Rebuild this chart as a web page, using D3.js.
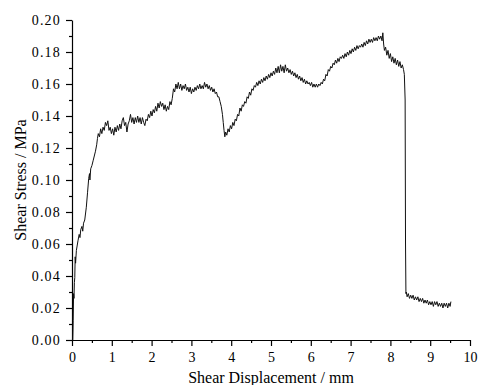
<!DOCTYPE html>
<html>
<head>
<meta charset="utf-8">
<script src="https://cdnjs.cloudflare.com/ajax/libs/d3/7.8.5/d3.min.js"></script>
<style>
  body { margin: 0; background: #fff; }
  svg text { font-family: "Times New Roman", "Liberation Serif", "DejaVu Serif", serif; }
</style>
</head>
<body>
<div id="chart"></div>
<script>
// tick values
const xTicks = [0, 1, 2, 3, 4, 5, 6, 7, 8, 9, 10];
const xMinor = [0.5, 1.5, 2.5, 3.5, 4.5, 5.5, 6.5, 7.5, 8.5, 9.5];
const yTicks = [0, 0.02, 0.04, 0.06, 0.08, 0.10, 0.12, 0.14, 0.16, 0.18, 0.20];
const yMinor = [0.01, 0.03, 0.05, 0.07, 0.09, 0.11, 0.13, 0.15, 0.17, 0.19];

// curve, [displacement mm, stress MPa]
const riseData = [
  [0, 0], [0.02, 0.000], [0.03, 0.012], [0.04, 0.029], [0.05, 0.026], [0.06, 0.036],
  [0.07, 0.039], [0.08, 0.052], [0.09, 0.048], [0.11, 0.056], [0.15, 0.062], [0.18, 0.066],
  [0.20, 0.064], [0.22, 0.069], [0.25, 0.071], [0.27, 0.068], [0.29, 0.073], [0.32, 0.075],
  [0.36, 0.083], [0.39, 0.092], [0.42, 0.101], [0.44, 0.104], [0.45, 0.100], [0.47, 0.107],
  [0.50, 0.109], [0.53, 0.112], [0.56, 0.115], [0.59, 0.118], [0.62, 0.122], [0.64, 0.126]
];
const firstPlateau = [
  [0.66, 0.129], [0.69, 0.127], [0.72, 0.132], [0.75, 0.129], [0.78, 0.133], [0.81, 0.131],
  [0.84, 0.136], [0.87, 0.134], [0.90, 0.137], [0.93, 0.131], [0.96, 0.133], [0.99, 0.129],
  [1.02, 0.132], [1.05, 0.128], [1.08, 0.133], [1.11, 0.130], [1.14, 0.134], [1.17, 0.131],
  [1.20, 0.135], [1.23, 0.132], [1.26, 0.137], [1.29, 0.139], [1.32, 0.134], [1.35, 0.136],
  [1.38, 0.130], [1.41, 0.135], [1.44, 0.137], [1.47, 0.141], [1.50, 0.136], [1.53, 0.139],
  [1.56, 0.135], [1.59, 0.139], [1.62, 0.136], [1.65, 0.140], [1.68, 0.136], [1.71, 0.139],
  [1.74, 0.135], [1.77, 0.139], [1.80, 0.136], [1.83, 0.134], [1.86, 0.138], [1.89, 0.137],
  [1.92, 0.141], [1.95, 0.139], [1.98, 0.143], [2.01, 0.140], [2.04, 0.144], [2.07, 0.142],
  [2.10, 0.146], [2.13, 0.143], [2.16, 0.148], [2.19, 0.145], [2.22, 0.149], [2.25, 0.146],
  [2.28, 0.148], [2.31, 0.144], [2.34, 0.147], [2.37, 0.143], [2.40, 0.146], [2.43, 0.144],
  [2.46, 0.149], [2.49, 0.147], [2.52, 0.151], [2.55, 0.157], [2.58, 0.155], [2.61, 0.160],
  [2.64, 0.157], [2.67, 0.161], [2.70, 0.157], [2.73, 0.160], [2.76, 0.156], [2.79, 0.159],
  [2.82, 0.157], [2.85, 0.160], [2.88, 0.156], [2.91, 0.158], [2.94, 0.155], [2.97, 0.158],
  [3.00, 0.154], [3.03, 0.157], [3.06, 0.155], [3.09, 0.158], [3.12, 0.156], [3.15, 0.159],
  [3.18, 0.157], [3.21, 0.160], [3.24, 0.157], [3.27, 0.159], [3.30, 0.157], [3.33, 0.161],
  [3.36, 0.158], [3.39, 0.160], [3.42, 0.157], [3.45, 0.159], [3.48, 0.156], [3.51, 0.158],
  [3.54, 0.155], [3.57, 0.157], [3.60, 0.154], [3.63, 0.155], [3.66, 0.152], [3.69, 0.152],
  [3.72, 0.149], [3.75, 0.146], [3.78, 0.141], [3.80, 0.136], [3.82, 0.131], [3.84, 0.127]
];
const secondHump = [
  [3.86, 0.130], [3.89, 0.128], [3.92, 0.132], [3.95, 0.130], [3.98, 0.134], [4.01, 0.132],
  [4.04, 0.136], [4.07, 0.134], [4.10, 0.138], [4.13, 0.137], [4.16, 0.141], [4.19, 0.140],
  [4.22, 0.145], [4.25, 0.143], [4.28, 0.147], [4.31, 0.146], [4.34, 0.149], [4.37, 0.148],
  [4.40, 0.152], [4.43, 0.151], [4.46, 0.155], [4.49, 0.153], [4.52, 0.157], [4.55, 0.156],
  [4.58, 0.159], [4.61, 0.158], [4.64, 0.161], [4.67, 0.159], [4.70, 0.162], [4.73, 0.160],
  [4.76, 0.163], [4.79, 0.161], [4.82, 0.164], [4.85, 0.162], [4.88, 0.165], [4.91, 0.163],
  [4.94, 0.166], [4.97, 0.164], [5.00, 0.167], [5.03, 0.165], [5.06, 0.168], [5.09, 0.166],
  [5.12, 0.170], [5.15, 0.167], [5.18, 0.171], [5.21, 0.167], [5.24, 0.172], [5.27, 0.168],
  [5.30, 0.171], [5.33, 0.167], [5.36, 0.172], [5.39, 0.168], [5.42, 0.170], [5.45, 0.167],
  [5.48, 0.169], [5.51, 0.166], [5.54, 0.168], [5.57, 0.165], [5.60, 0.167], [5.63, 0.164],
  [5.66, 0.166], [5.69, 0.163], [5.72, 0.165], [5.75, 0.162], [5.78, 0.164], [5.81, 0.161],
  [5.84, 0.163], [5.87, 0.160], [5.90, 0.162], [5.93, 0.160], [5.96, 0.161], [5.99, 0.159],
  [6.02, 0.161], [6.05, 0.158], [6.08, 0.160], [6.11, 0.158], [6.14, 0.160], [6.17, 0.158],
  [6.20, 0.160], [6.23, 0.159], [6.26, 0.161], [6.29, 0.160]
];
const peakData = [
  [6.32, 0.163], [6.35, 0.162], [6.38, 0.166], [6.41, 0.165], [6.44, 0.169], [6.47, 0.168],
  [6.50, 0.171], [6.53, 0.170], [6.56, 0.173], [6.59, 0.172], [6.62, 0.175], [6.65, 0.173],
  [6.68, 0.176], [6.71, 0.174], [6.74, 0.177], [6.77, 0.176], [6.80, 0.178], [6.83, 0.176],
  [6.86, 0.179], [6.89, 0.177], [6.92, 0.180], [6.95, 0.178], [6.98, 0.181], [7.01, 0.179],
  [7.04, 0.182], [7.07, 0.180], [7.10, 0.183], [7.13, 0.181], [7.16, 0.184], [7.19, 0.182],
  [7.22, 0.184], [7.25, 0.183], [7.28, 0.185], [7.31, 0.183], [7.34, 0.186], [7.37, 0.184],
  [7.40, 0.187], [7.43, 0.185], [7.46, 0.188], [7.49, 0.186], [7.52, 0.188], [7.55, 0.186],
  [7.58, 0.189], [7.61, 0.187], [7.64, 0.189], [7.67, 0.187], [7.70, 0.190], [7.73, 0.188],
  [7.76, 0.190], [7.79, 0.187], [7.81, 0.192], [7.83, 0.185], [7.85, 0.181], [7.88, 0.183],
  [7.91, 0.178], [7.94, 0.181], [7.97, 0.176], [8.00, 0.179], [8.03, 0.174], [8.06, 0.177],
  [8.09, 0.173], [8.12, 0.176], [8.15, 0.172], [8.18, 0.175], [8.21, 0.171], [8.24, 0.174],
  [8.27, 0.170], [8.30, 0.172], [8.33, 0.169], [8.35, 0.166], [8.37, 0.150], [8.38, 0.060],
  [8.39, 0.029]
];
const residualData = [
  [8.40, 0.030], [8.42, 0.027], [8.45, 0.029], [8.48, 0.026], [8.51, 0.028], [8.54, 0.026],
  [8.57, 0.028], [8.60, 0.025], [8.63, 0.027], [8.66, 0.025], [8.69, 0.027], [8.72, 0.024],
  [8.75, 0.026], [8.78, 0.024], [8.81, 0.026], [8.84, 0.023], [8.87, 0.025], [8.90, 0.023],
  [8.93, 0.025], [8.96, 0.022], [8.99, 0.024], [9.02, 0.022], [9.05, 0.024], [9.08, 0.021],
  [9.11, 0.024], [9.14, 0.022], [9.17, 0.024], [9.20, 0.021], [9.23, 0.023], [9.26, 0.021],
  [9.29, 0.023], [9.32, 0.020], [9.35, 0.023], [9.38, 0.021], [9.41, 0.023], [9.44, 0.020],
  [9.47, 0.023], [9.50, 0.021], [9.52, 0.024]
];

// set dimensions and margins
const margin = {top: 20, right: 8, bottom: 45, left: 72};
const width = 478 - margin.left - margin.right;
const height = 385 - margin.top - margin.bottom;
const serif = "'Times New Roman', 'Liberation Serif', 'DejaVu Serif', serif";

const svg = d3.select("#chart")
    .append("svg")
    .attr("width", width + margin.left + margin.right)
    .attr("height", height + margin.top + margin.bottom)
    .append("g")
    .attr("transform", "translate(" + margin.left + "," + margin.top + ")");

const x = d3.scaleLinear().domain([0, 10]).range([0, width]);
const y = d3.scaleLinear().domain([0, 0.2]).range([height, 0]);

// minor ticks
svg.append("g")
    .attr("transform", "translate(0," + height + ")")
    .call(d3.axisBottom(x).tickValues(xMinor).tickSize(3).tickFormat(""))
    .call(g => g.select(".domain").remove());
svg.append("g")
    .call(d3.axisLeft(y).tickValues(yMinor).tickSize(3).tickFormat(""))
    .call(g => g.select(".domain").remove());

// x axis
svg.append("g")
    .attr("transform", "translate(0," + height + ")")
    .call(d3.axisBottom(x).tickValues(xTicks).tickSize(6).tickSizeOuter(0).tickPadding(6).tickFormat(d3.format("d")))
    .attr("font-family", serif)
    .attr("font-size", 14);

// y axis
svg.append("g")
    .call(d3.axisLeft(y).tickValues(yTicks).tickSize(6).tickSizeOuter(0).tickPadding(5).tickFormat(d3.format(".2f")))
    .attr("font-family", serif)
    .attr("font-size", 14)
    .attr("letter-spacing", 1.2);

svg.selectAll(".domain, .tick line").attr("stroke", "#000").attr("stroke-width", 1.2);

// curve
const line = d3.line()
    .x(d => x(d[0]))
    .y(d => y(d[1]));

const curve = riseData.concat(firstPlateau, secondHump, peakData, residualData);
svg.append("path")
    .datum(curve)
    .attr("fill", "none")
    .attr("stroke", "#111")
    .attr("stroke-width", 1)
    .attr("d", line);

// axis titles
svg.append("text")
    .attr("x", width / 2)
    .attr("y", height + 43)
    .attr("text-anchor", "middle")
    .attr("font-family", serif)
    .style("font-size", "16px")
    .text("Shear Displacement / mm");

svg.append("text")
    .attr("transform", "rotate(-90)")
    .attr("x", -height / 2)
    .attr("y", -margin.left + 26)
    .attr("text-anchor", "middle")
    .attr("font-family", serif)
    .style("font-size", "16px")
    .text("Shear Stress / MPa");
</script>
</body>
</html>
